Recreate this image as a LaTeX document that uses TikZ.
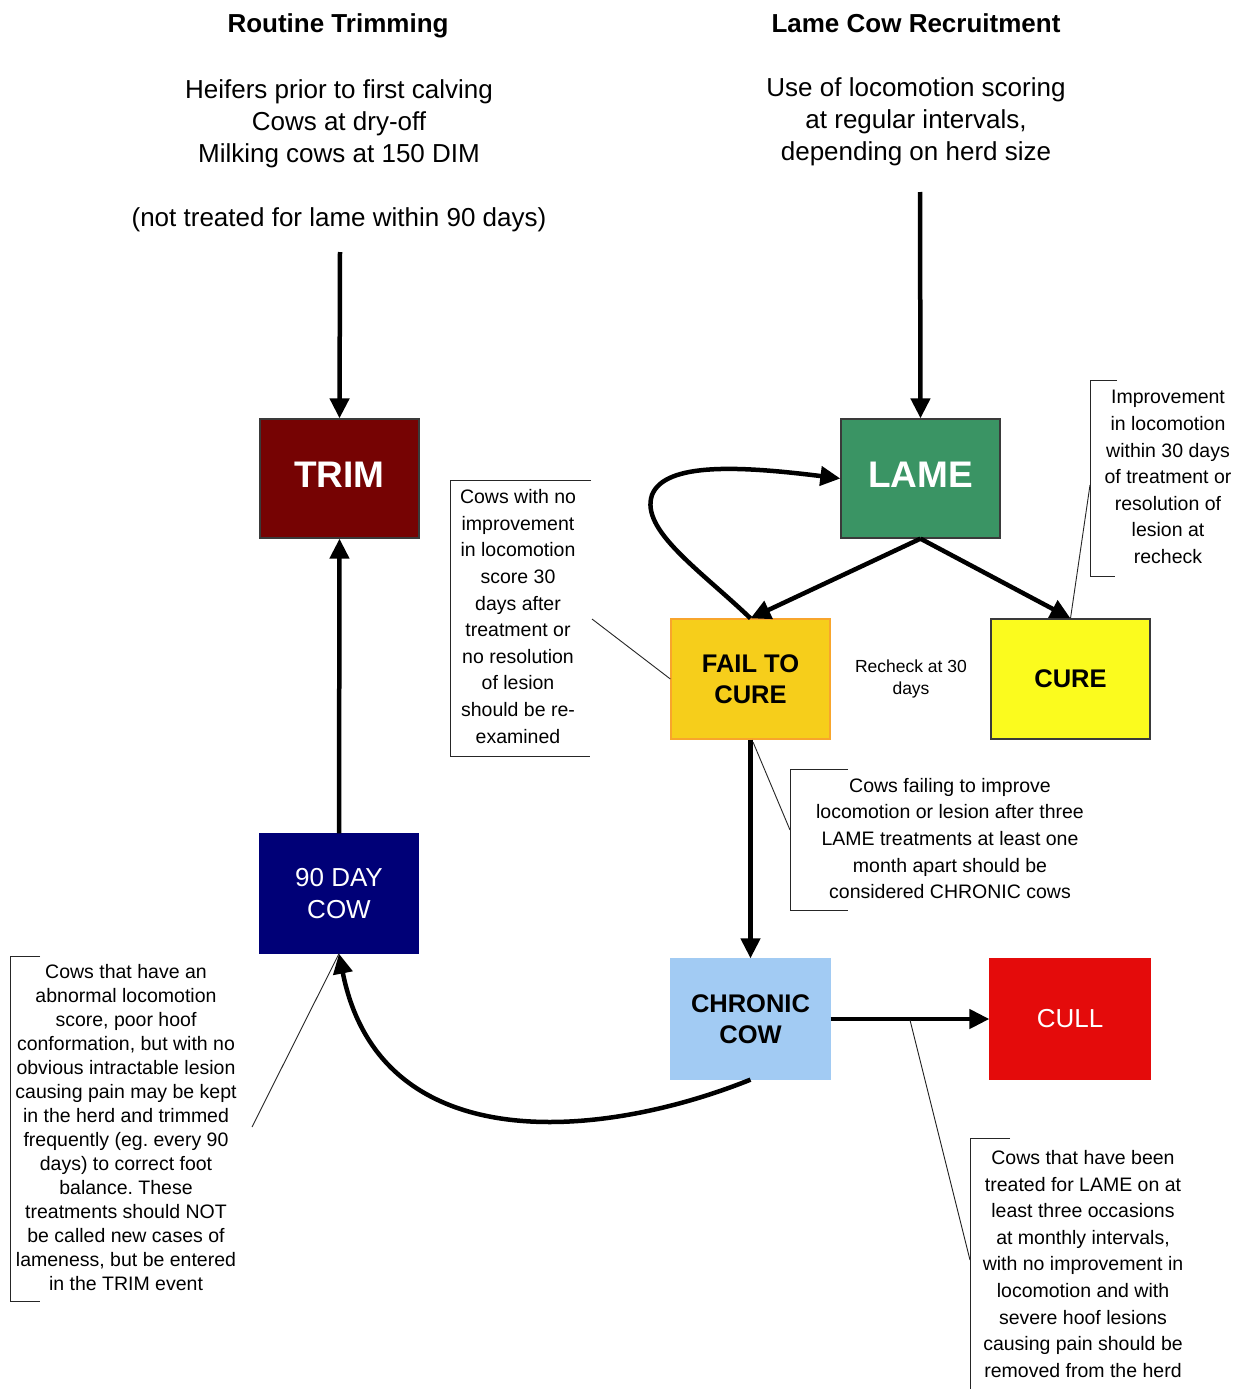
\documentclass[tikz,border=0pt]{standalone}
\usepackage{fontspec}
\setmainfont{Liberation Sans}
\usetikzlibrary{arrows.meta}
\frenchspacing
\definecolor{trimred}{HTML}{760303}
\definecolor{lamegreen}{HTML}{3A9464}
\definecolor{failyellow}{HTML}{F6CE1B}
\definecolor{failborder}{HTML}{F8A52C}
\definecolor{cureyellow}{HTML}{FBFB1E}
\definecolor{navyblue}{HTML}{000077}
\definecolor{chronicblue}{HTML}{A2CBF3}
\definecolor{cullred}{HTML}{E40B0B}
\definecolor{edgegray}{HTML}{3A3A3A}
\newcommand\notefont{\fontsize{19.5}{26.6}\selectfont}
\newcommand\headfont{\fontsize{26}{32}\selectfont}
\tikzset{
  box/.style={draw=edgegray, line width=1.3pt, minimum width=159pt, minimum height=119pt, inner sep=0pt, align=center},
  bigbold/.style={font=\fontsize{37}{40}\selectfont\bfseries, text=white},
  midbold/.style={font=\fontsize{25.5}{31.5}\selectfont\bfseries, text=black},
  midreg/.style={font=\fontsize{26}{32}\selectfont, text=white},
  flow/.style={line width=4.5pt, -{Triangle[length=20pt,width=19pt]}},
  leader/.style={line width=0.9pt, draw=black!85},
  note/.style={font=\notefont\frenchspacing, align=center, inner sep=0pt},
  head/.style={font=\headfont, align=center, inner sep=0pt},
}
\begin{document}
\begin{tikzpicture}[x=1pt,y=-1pt]
\useasboundingbox (0,0) rectangle (1245,1389);
\fill[white] (0,0) rectangle (1245,1389);

% headers
\node[head, font=\headfont\bfseries] (t1) at (338,26) {Routine Trimming};
\node[head] (h1) at (339,124) {Heifers prior to first calving\\Cows at dry-off\\Milking cows at 150 DIM};
\node[head] (h1b) at (339,220) {(not treated for lame within 90 days)};
\node[head, font=\headfont\bfseries] (t2) at (916,23) {Lame Cow Recruitment};
\node[head] (h2) at (916,122) {Use of locomotion scoring\\at regular intervals,\\depending on herd size};

% boxes
\node[box, fill=trimred, bigbold] (trim) at (339.5,478.5) {TRIM\vphantom{g}};
\node[box, fill=lamegreen, bigbold] (lame) at (920.5,478.5) {LAME\vphantom{g}};
\node[box, fill=failyellow, draw=failborder, minimum height=120pt, midbold] (fail) at (750.5,679) {FAIL TO\\CURE};
\node[box, fill=cureyellow, minimum height=120pt, midbold] (cure) at (1070.5,679) {CURE};
\node[box, fill=navyblue, draw=navyblue, minimum width=158pt, midreg] (ninety) at (339,893.5) {90 DAY\\COW};
\node[box, fill=chronicblue, draw=chronicblue, minimum height=120pt, midbold] (chronic) at (750.5,1019) {CHRONIC\\COW};
\node[box, fill=cullred, draw=cullred, minimum width=160pt, minimum height=120pt, midreg] (cull) at (1070,1019) {CULL};

\node[inner sep=0pt, align=center, font=\fontsize{17.5}{22}\selectfont] (recheck) at (911,679) {Recheck at 30\\days};

% flow arrows
\coordinate (srcL) at (340,252);
\coordinate (srcR) at (920,192);
\draw[flow] (srcL) -- (trim.north);
\draw[flow] (srcR) -- (lame.north);
\draw[flow] (ninety.north) -- (trim.south);
\draw[flow] (lame.south) -- (fail.north);
\draw[flow] (lame.south) -- (cure.north);
\draw[flow] (fail.south) -- (chronic.north);
\draw[flow] (chronic.east) -- (cull.west);
\draw[flow] (fail.north) .. controls (700,570) and (640,530) .. (652,495)
                         .. controls (665,462) and (740,466) .. (lame.west);
\draw[flow] (chronic.south) .. controls (600,1140) and (380,1160) .. (ninety.south);

% callouts
\node[note] (nimp) at (1168,477) {Improvement\\in locomotion\\within 30 days\\of treatment or\\resolution of\\lesion at\\recheck};
\draw[leader] (1117,380) -- (1090,380) -- (1090,576) -- (1115,576);
\coordinate (cimp) at (1090,485);
\draw[leader] (cimp) -- (cure.north);

\node[note] (nno) at (518,616.5) {Cows with no\\improvement\\in locomotion\\score 30\\days after\\treatment or\\no resolution\\of lesion\\should be re-\\examined};
\draw[leader] (591,480) -- (450,480) -- (450,756) -- (590,756);
\coordinate (cno) at (592,619);
\draw[leader] (cno) -- (fail.west);

\node[note] (nfail) at (950,838.5) {Cows failing to improve\\locomotion or lesion after three\\LAME treatments at least one\\month apart should be\\considered CHRONIC cows};
\draw[leader] (848,769) -- (790,769) -- (790,910) -- (848,910);
\coordinate (cfail) at (790,830);
\coordinate (cfailb) at (753,742);
\draw[leader] (cfail) -- (cfailb);

\node[note, font=\fontsize{19.5}{24}\selectfont\frenchspacing] (nab) at (126,1128) {Cows that have an\\abnormal locomotion\\score, poor hoof\\conformation, but with no\\obvious intractable lesion\\causing pain may be kept\\in the herd and trimmed\\frequently (eg. every 90\\days) to correct foot\\balance. These\\treatments should NOT\\be called new cases of\\lameness, but be entered\\in the TRIM event};
\draw[leader] (40,956) -- (10,956) -- (10,1301) -- (40,1301);
\coordinate (cab) at (252,1127);
\draw[leader] (cab) -- (ninety.south);

\node[note] (ntr) at (1083,1264) {Cows that have been\\treated for LAME on at\\least three occasions\\at monthly intervals,\\with no improvement in\\locomotion and with\\severe hoof lesions\\causing pain should be\\removed from the herd};
\draw[leader] (1010,1138) -- (970,1138) -- (970,1389);
\coordinate (ctr) at (970,1260);
\coordinate (ctra) at (910,1020);
\draw[leader] (ctr) -- (ctra);
\end{tikzpicture}
\end{document}
